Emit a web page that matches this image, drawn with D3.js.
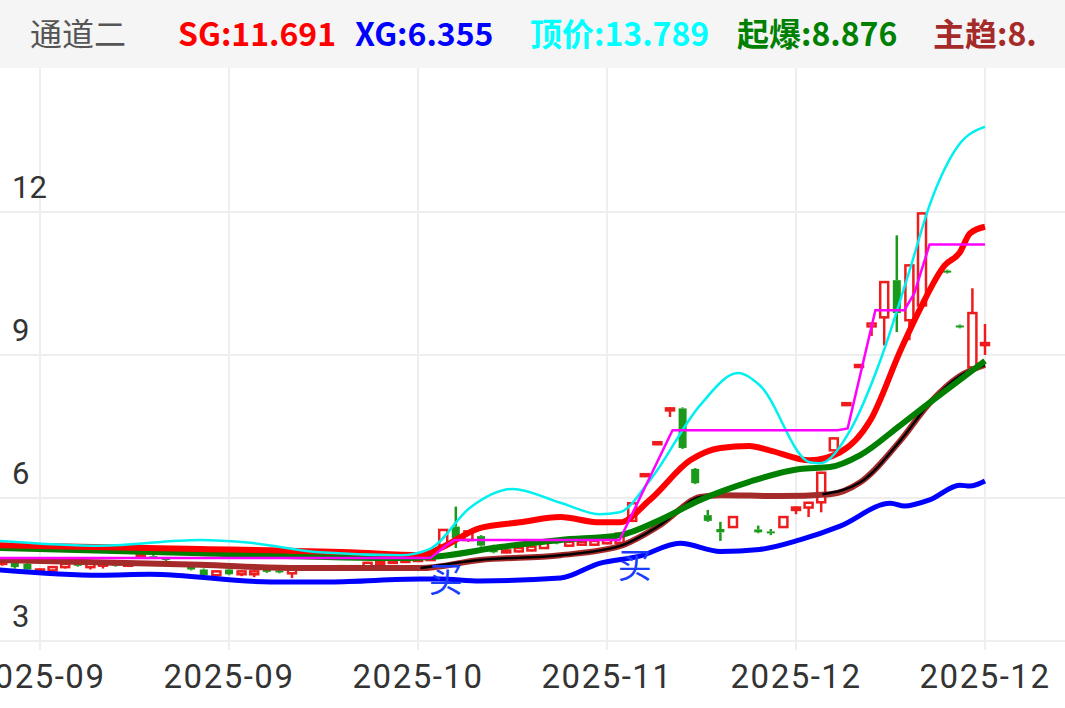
<!DOCTYPE html>
<html><head><meta charset="utf-8">
<script src="https://cdn.jsdelivr.net/npm/d3@7"></script>
<style>body{margin:0;background:#fff;font-family:"Noto Sans CJK SC","Noto Sans",sans-serif}</style>
</head><body><div id="chart"></div>
<script>
// ---- data ----
var yTicks = [3, 6, 9, 12];
var xTickDays = [3, 18, 33, 48, 63, 78];
var xTickLabels = ["2025-09", "2025-09", "2025-10", "2025-11", "2025-12", "2025-12"];

// candles: [day, open, close, high, low]
var candles = [
  [0,4.62,4.66,4.68,4.58],[1,4.66,4.55,4.68,4.52],[2,4.62,4.50,4.64,4.46],[3,4.46,4.50,4.52,4.44],
  [4,4.48,4.55,4.57,4.40],[5,4.55,4.62,4.64,4.52],[6,4.62,4.58,4.64,4.56],[7,4.55,4.62,4.65,4.50],
  [8,4.58,4.64,4.66,4.52],[9,4.62,4.58,4.64,4.56],[10,4.58,4.62,4.64,4.56],[11,4.76,4.80,4.82,4.74],
  [12,4.78,4.74,4.80,4.72],[13,4.74,4.70,4.76,4.68],[14,4.62,4.58,4.64,4.56],[15,4.56,4.50,4.58,4.48],
  [16,4.50,4.38,4.52,4.36],[17,4.38,4.46,4.48,4.36],[18,4.50,4.40,4.52,4.38],[19,4.40,4.46,4.48,4.36],
  [20,4.40,4.46,4.48,4.34],[21,4.50,4.45,4.52,4.43],[22,4.48,4.44,4.50,4.42],[23,4.42,4.50,4.52,4.32],
  [24,4.50,4.56,4.58,4.48],[25,4.52,4.56,4.58,4.50],[26,4.55,4.52,4.57,4.50],[27,4.52,4.57,4.59,4.50],
  [28,4.53,4.57,4.58,4.51],[29,4.56,4.64,4.66,4.55],[30,4.62,4.66,4.68,4.60],[31,4.64,4.68,4.70,4.62],
  [32,4.66,4.70,4.72,4.64],[33,4.68,4.72,4.76,4.66],
  [34,4.70,4.74,4.76,4.68],[35,5.00,5.33,5.35,4.95],[36,5.40,5.15,5.82,4.95],[37,5.12,5.30,5.32,5.08],
  [38,5.20,5.00,5.22,4.98],[39,5.00,4.86,5.02,4.84],[40,4.86,4.90,4.92,4.84],[41,4.88,4.95,4.97,4.86],
  [42,4.90,4.98,5.00,4.88],[43,4.95,5.10,5.12,4.93],[44,5.12,5.05,5.14,5.03],[45,5.00,5.08,5.10,4.98],
  [46,5.02,5.08,5.10,5.00],[47,5.02,5.10,5.12,5.00],[48,5.05,5.12,5.14,5.03],[49,5.06,5.25,5.27,4.98],
  [50,5.52,5.89,5.91,5.50],[51,6.46,6.50,6.52,6.44],[52,7.13,7.17,7.19,7.11],[53,7.84,7.88,7.90,7.70],
  [54,7.88,7.05,7.90,7.03],[55,6.61,6.31,6.63,6.29],[56,5.64,5.52,5.75,5.50],[57,5.35,5.28,5.50,5.10],
  [58,5.39,5.60,5.62,5.37],[60,5.34,5.28,5.42,5.26],[61,5.30,5.26,5.35,5.22],[62,5.39,5.60,5.62,5.37],
  [63,5.75,5.80,5.82,5.66],[64,5.80,5.90,5.92,5.60],[65,5.91,6.53,6.55,5.70],[66,7.00,7.25,7.27,6.98],
  [67,7.95,7.99,8.01,7.93],[68,8.75,8.79,8.81,8.73],[69,9.60,9.66,9.68,9.40],[70,9.79,10.53,10.55,9.20],
  [71,10.57,9.88,11.51,9.48],[72,9.73,10.88,10.90,9.31],[73,10.04,11.97,11.99,10.00],[75,10.77,10.73,10.79,10.71],
  [76,9.62,9.58,9.64,9.56],[77,8.74,9.88,10.40,8.72],[78,9.25,9.25,9.65,9.00]
];

// line series: [day, value]
var sgLine = [[-0.2,5.01],[15.7,4.93],[27.6,4.86],[33.2,4.80],[34.7,4.94],[37.9,5.37],[41.1,5.49],[44.3,5.60],
  [47.4,5.49],[49.0,5.49],[51.4,5.96],[54.6,6.79],[57.0,7.05],[59.3,7.09],[60.9,7.00],[64.1,6.79],[66.5,6.96],
  [68.9,7.63],[71.3,9.10],[72.8,9.94],[74.8,10.88],[76.0,11.15],[76.8,11.55],[78,11.69]];
var xgLine = [[-0.2,4.49],[7.8,4.38],[11.7,4.40],[21.3,4.24],[26.0,4.24],[33.2,4.30],[34.7,4.30],[37.9,4.26],
  [44.3,4.32],[47.4,4.63],[50.6,4.78],[53.8,5.05],[57.0,4.88],[60.1,4.92],[63.3,5.12],[66.5,5.41],[70.5,5.89],
  [71.6,5.83],[73.6,5.96],[76.0,6.27],[76.8,6.25],[78,6.355]];
var topLine = [[-0.2,5.10],[7.8,5.00],[15.7,5.12],[19.7,5.06],[25.2,4.86],[31.6,4.80],[34.0,4.94],[37.1,5.79],
  [40.5,6.19],[44.3,5.90],[47.4,5.66],[49.0,5.70],[51.4,6.37],[55.4,7.95],[58.4,8.62],[60.1,8.37],[64.1,6.75],
  [64.9,6.73],[67.3,7.42],[69.7,8.89],[72.0,10.76],[73.6,12.14],[75.9,13.40],[78,13.789]];
var qbLine = [[-0.2,4.95],[15.7,4.84],[31.6,4.74],[34.7,4.78],[39.5,4.97],[44.3,5.12],[49.0,5.22],[52.2,5.54],
  [55.4,5.96],[59.3,6.34],[63.3,6.61],[65.7,6.65],[68.1,6.90],[71.3,7.53],[74.4,8.16],[78,8.876]];
var ztLine = [[-0.2,4.70],[15.7,4.60],[23.6,4.53],[33.2,4.53],[37.9,4.70],[44.3,4.80],[49.0,4.99],[52.2,5.43],
  [55.4,6.02],[57.0,6.06],[61.7,6.04],[65.7,6.08],[68.1,6.33],[71.3,7.21],[73.6,7.99],[76.0,8.56],[78,8.79]];
var ztBlack = [[33.2,4.53],[37.9,4.70],[44.3,4.80],[49.0,4.99],[52.2,5.43],[55.4,6.02],[56.6,6.05]];
var ztBlack2 = [[65.1,6.08],[68.1,6.33],[71.3,7.21],[73.6,7.99],[76.0,8.56],[78,8.79]];
var stepLine = [[-0.2,4.74],[34.0,4.74],[35.2,5.00],[35.9,5.12],[49.0,5.12],[53.2,7.42],[66.3,7.42],[67.1,7.46],
  [69.3,9.94],[71.6,9.94],[72.4,10.30],[73.6,11.32],[78,11.32]];
var buySignals = [[35.2, 4.02], [50.2, 4.33]];

var header = [
  {t: "通道二", c: "#555", x: 30, w: "normal"},
  {t: "SG:11.691", c: "#ff0000", x: 178, w: "bold"},
  {t: "XG:6.355", c: "#0000ff", x: 355, w: "bold"},
  {t: "顶价:13.789", c: "#00ffff", x: 530, w: "bold"},
  {t: "起爆:8.876", c: "#008000", x: 737, w: "bold"},
  {t: "主趋:8.", c: "#a52a2a", x: 933, w: "bold"}
];

// ---- chart ----
var W = 1065, H = 708;
var svg = d3.select("#chart").append("svg").attr("width", W).attr("height", H);

var x = d3.scaleLinear().domain([3, 78]).range([40, 985]);
var y = d3.scaleLinear().domain([3, 12]).range([641, 212]);

// grid
svg.selectAll(".hg").data(yTicks).enter().append("line")
  .attr("x1", 0).attr("x2", W).attr("y1", d => y(d)).attr("y2", d => y(d))
  .attr("stroke", "#eeeeee").attr("stroke-width", 2);
svg.selectAll(".vg").data(xTickDays).enter().append("line")
  .attr("x1", d => x(d)).attr("x2", d => x(d)).attr("y1", 68).attr("y2", 650)
  .attr("stroke", "#eeeeee").attr("stroke-width", 2);

// header band
svg.append("rect").attr("width", W).attr("height", 68).attr("fill", "#f5f5f5");
svg.selectAll(".hd").data(header).enter().append("text")
  .attr("x", d => d.x).attr("y", 46).attr("fill", d => d.c)
  .style("font-size", "32px").style("font-weight", d => d.w).text(d => d.t);

// axis labels
svg.selectAll(".yl").data(yTicks).enter().append("text")
  .attr("x", 12).attr("y", d => y(d) - 14).attr("fill", "#333")
  .style("font-size", "31px").style("font-family", "Roboto,sans-serif").text(d => d);
svg.selectAll(".xl").data(xTickDays).enter().append("text")
  .attr("x", d => x(d)).attr("y", 688).attr("text-anchor", "middle").attr("fill", "#333")
  .style("font-size", "33px").style("letter-spacing", "1.5px").style("font-family", "Roboto,sans-serif")
  .text((d, i) => xTickLabels[i]);

var line = d3.line().x(d => x(d[0])).y(d => y(d[1])).curve(d3.curveMonotoneX);
function drawLine(data, color, width) {
  svg.append("path").datum(data).attr("d", line).attr("fill", "none")
    .attr("stroke", color).attr("stroke-width", width).attr("stroke-linejoin", "round");
}

// candles
var cw = 8;
var cg = svg.append("g");
candles.forEach(function(c) {
  var up = c[2] >= c[1];
  var col = up ? "#ee1c1c" : "#1a9a1a";
  var top = Math.max(c[1], c[2]), bot = Math.min(c[1], c[2]);
  cg.append("line").attr("x1", x(c[0])).attr("x2", x(c[0]))
    .attr("y1", y(c[3])).attr("y2", y(top)).attr("stroke", col).attr("stroke-width", 2.5);
  cg.append("line").attr("x1", x(c[0])).attr("x2", x(c[0]))
    .attr("y1", y(bot)).attr("y2", y(c[4])).attr("stroke", col).attr("stroke-width", 2.5);
  var h = Math.max(y(bot) - y(top), 2);
  cg.append("rect").attr("x", x(c[0]) - cw / 2).attr("y", y(top)).attr("width", cw).attr("height", h)
    .attr("fill", up ? "#fff" : col).attr("stroke", col).attr("stroke-width", up ? 2.5 : 0);
});

drawLine(xgLine, "#0000ff", 5);
drawLine(ztLine, "#a52a2a", 6);
drawLine(ztBlack, "#000", 2.5);
drawLine(ztBlack2, "#000", 2.5);
drawLine(qbLine, "#008000", 6);
drawLine(sgLine, "#ff0000", 6);
drawLine(topLine, "#00f0f0", 2.5);
svg.append("path").datum(stepLine).attr("d", d3.line().x(d => x(d[0])).y(d => y(d[1])))
  .attr("fill", "none").attr("stroke", "#ff00ff").attr("stroke-width", 2.5);

svg.selectAll(".buy").data(buySignals).enter().append("text")
  .attr("x", d => x(d[0])).attr("y", d => y(d[1])).attr("text-anchor", "middle")
  .attr("fill", "#1a3cff").style("font-size", "34px").text("买");
</script></body></html>
